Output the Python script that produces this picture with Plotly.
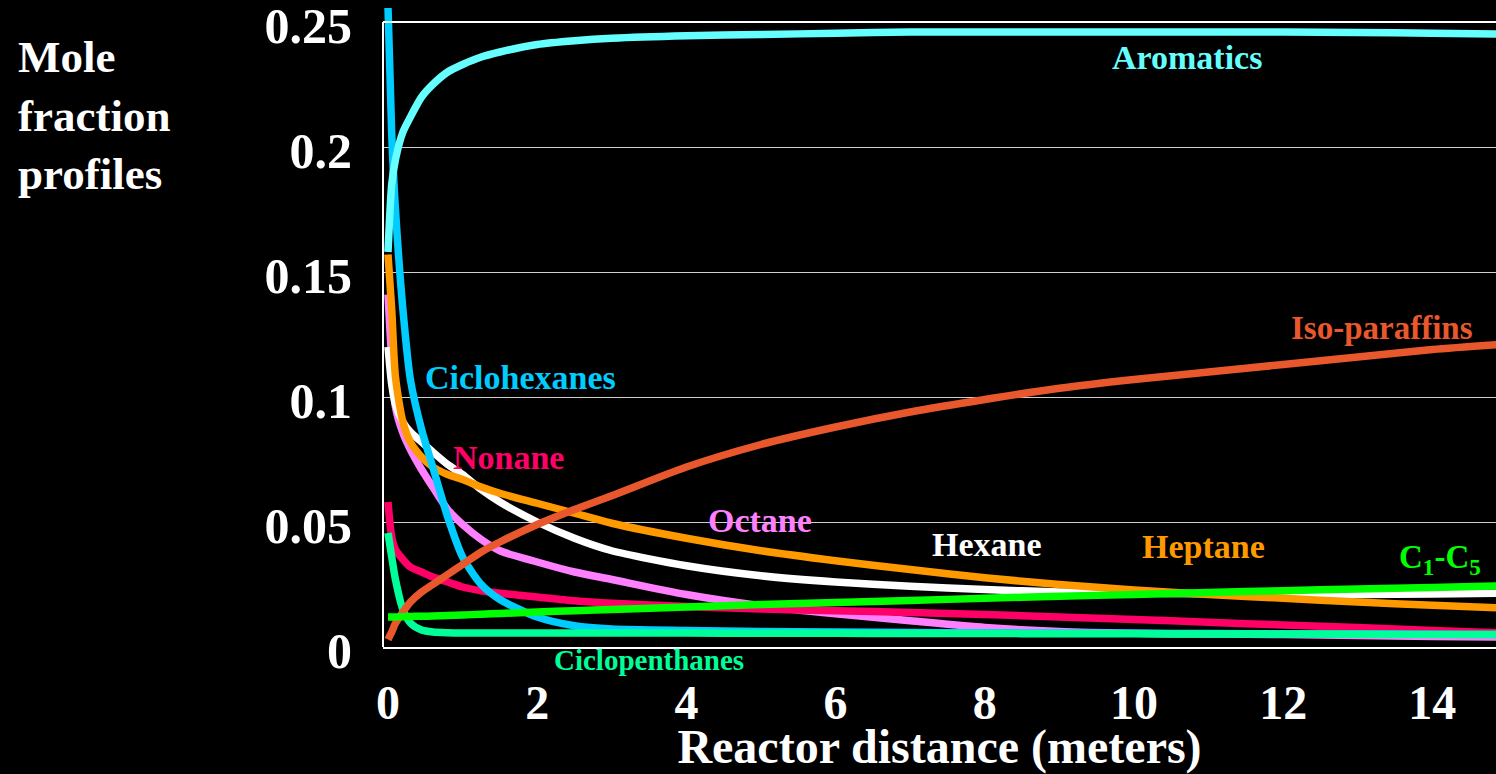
import plotly.graph_objects as go

# reactor distance (m)
distance = [0, 0.05, 0.1, 0.2, 0.3, 0.45, 0.6, 0.8, 1.0, 1.25, 1.5, 2, 2.5, 3,
            4, 5, 6, 7, 8, 9, 10, 11, 12, 13, 14, 14.9]

# mole fractions
aromatics = [0.158, 0.185, 0.195, 0.206, 0.212, 0.220, 0.225, 0.230, 0.233, 0.236,
             0.238, 0.241, 0.2425, 0.2435, 0.2445, 0.245, 0.2455, 0.246, 0.246, 0.246,
             0.246, 0.246, 0.246, 0.2458, 0.2455, 0.2452]
ciclohexanes = [0.256, 0.205, 0.175, 0.135, 0.107, 0.087, 0.072, 0.052, 0.036, 0.025,
                0.019, 0.012, 0.0085, 0.0072, 0.0066, 0.0062, 0.006, 0.0058, 0.0057,
                0.0056, 0.0055, 0.0054, 0.0053, 0.0052, 0.0051, 0.005]
heptane = [0.157, 0.135, 0.108, 0.090, 0.082, 0.076, 0.072, 0.069, 0.067, 0.064,
           0.0615, 0.0575, 0.0535, 0.0495, 0.0435, 0.0385, 0.0345, 0.031, 0.0277, 0.025,
           0.0228, 0.021, 0.0195, 0.018, 0.0167, 0.0156]
hexane = [0.120, 0.105, 0.097, 0.090, 0.086, 0.082, 0.078, 0.073, 0.069, 0.063,
          0.058, 0.050, 0.0435, 0.0385, 0.0325, 0.0285, 0.026, 0.0243, 0.023, 0.022,
          0.0216, 0.0213, 0.021, 0.021, 0.0212, 0.0215]
octane = [0.141, 0.115, 0.096, 0.0856, 0.079, 0.071, 0.064, 0.055, 0.049, 0.043,
          0.0385, 0.034, 0.030, 0.027, 0.021, 0.0165, 0.0133, 0.0105, 0.0078, 0.0062,
          0.0055, 0.0052, 0.005, 0.0046, 0.0042, 0.004]
nonane = [0.058, 0.044, 0.039, 0.035, 0.032, 0.030, 0.028, 0.026, 0.024, 0.0225,
          0.0215, 0.020, 0.0185, 0.0175, 0.0162, 0.0152, 0.0145, 0.0138, 0.013, 0.012,
          0.011, 0.0099, 0.0088, 0.0078, 0.0066, 0.0056]
ciclopenthanes = [0.0456, 0.036, 0.027, 0.015, 0.0096, 0.0068, 0.006, 0.0057, 0.0056,
                  0.0056, 0.0056, 0.0056, 0.0056, 0.0056, 0.0056, 0.0055, 0.0055,
                  0.0054, 0.0054, 0.0053, 0.0053, 0.0052, 0.0052, 0.0051, 0.005, 0.005]
iso_paraffins = [0.003, 0.006, 0.0095, 0.014, 0.018, 0.022, 0.025, 0.029, 0.033, 0.038,
                 0.042, 0.049, 0.055, 0.0605, 0.072, 0.081, 0.088, 0.094, 0.099, 0.1035,
                 0.107, 0.110, 0.113, 0.116, 0.119, 0.121]
c1_c5 = [0.012, 0.012, 0.012, 0.0121, 0.0122, 0.0123, 0.0124, 0.0126, 0.0128, 0.0131,
         0.0134, 0.014, 0.0145, 0.015, 0.016, 0.017, 0.0178, 0.0186, 0.0195, 0.0203,
         0.021, 0.0218, 0.0225, 0.0232, 0.0238, 0.0244]

y_ticks = [0, 0.05, 0.1, 0.15, 0.2, 0.25]
y_ticktext = ["0", "0.05", "0.1", "0.15", "0.2", "0.25"]
x_ticks = [0, 2, 4, 6, 8, 10, 12, 14]

FONT = "Liberation Serif, Times New Roman, serif"

series = [
    ("Octane", octane, "#FF80FF"),
    ("Nonane", nonane, "#FF0066"),
    ("Hexane", hexane, "#FFFFFF"),
    ("Heptane", heptane, "#FF9900"),
    ("Ciclohexanes", ciclohexanes, "#00CCFF"),
    ("Ciclopenthanes", ciclopenthanes, "#00FF99"),
    ("Iso-paraffins", iso_paraffins, "#E8582C"),
    ("Aromatics", aromatics, "#66FFFF"),
    ("C1-C5", c1_c5, "#00FF00"),
]

fig = go.Figure()
for name, vals, col in series:
    fig.add_trace(go.Scatter(x=distance, y=vals, mode="lines", name=name,
                             line=dict(color=col, width=7.5, shape="spline", smoothing=0.7)))

# curve labels (x, y in data units)
labels = [
    ("Aromatics", 10.71, 0.236, "#66FFFF", 34),
    ("Ciclohexanes", 1.78, 0.108, "#00CCFF", 34),
    ("Nonane", 1.62, 0.076, "#FF0066", 34),
    ("Octane", 4.99, 0.0508, "#FF80FF", 34),
    ("Hexane", 8.03, 0.0412, "#FFFFFF", 34),
    ("Heptane", 10.93, 0.0404, "#FF9900", 34),
    ("Iso-paraffins", 13.32, 0.1276, "#E8582C", 33),
    ("C<sub>1</sub>-C<sub>5</sub>", 14.1, 0.035, "#00FF00", 33),
]
for txt, lx, ly, col, sz in labels:
    fig.add_annotation(x=lx, y=ly, text="<b>" + txt + "</b>", showarrow=False,
                       font=dict(family=FONT, size=sz, color=col))

fig.add_annotation(x=3.5, y=-0.021, yref="paper", yanchor="middle",
                   text="<b>Ciclopenthanes</b>", showarrow=False,
                   font=dict(family=FONT, size=29, color="#00FF99"))

fig.add_annotation(x=-0.3297, y=0.965, xref="paper", yref="paper",
                   xanchor="left", yanchor="top", align="left",
                   text="<b>Mole<br>fraction<br>profiles</b>", showarrow=False,
                   font=dict(family=FONT, size=45, color="white"))

# plot frame: left edge and top line
fig.add_shape(type="line", xref="paper", yref="y", x0=0, x1=0, y0=0, y1=0.25,
              line=dict(color="white", width=2))
fig.add_shape(type="line", xref="paper", yref="y", x0=0, x1=1, y0=0.25, y1=0.25,
              line=dict(color="white", width=2))

fig.update_layout(
    width=1496, height=774,
    paper_bgcolor="black", plot_bgcolor="black",
    margin=dict(l=383, r=0, t=8, b=127),
    showlegend=False,
    font=dict(family=FONT, color="white"),
    xaxis=dict(range=[-0.067, 14.853], tickvals=x_ticks, showgrid=False, zeroline=False,
               showline=True, linecolor="white", linewidth=2, ticks="",
               ticklabelstandoff=12, automargin=False,
               tickfont=dict(family=FONT, size=48, color="white", weight="bold"),
               title=dict(text="<b>Reactor distance (meters)</b>", standoff=10,
                          font=dict(family=FONT, size=48, color="white"))),
    yaxis=dict(range=[0, 0.2556], tickvals=y_ticks, ticktext=y_ticktext,
               showgrid=True, gridcolor="#cfcfcf", gridwidth=1, zeroline=False,
               showline=False, ticks="", ticklabelstandoff=30, automargin=False,
               ticklabelshift=3, ticklabeloverflow="allow",
               tickfont=dict(family=FONT, size=50, color="white", weight="bold")),
)

fig.write_html("out.html", config={"displayModeBar": False},
               post_script="document.body.style.margin='0';")
